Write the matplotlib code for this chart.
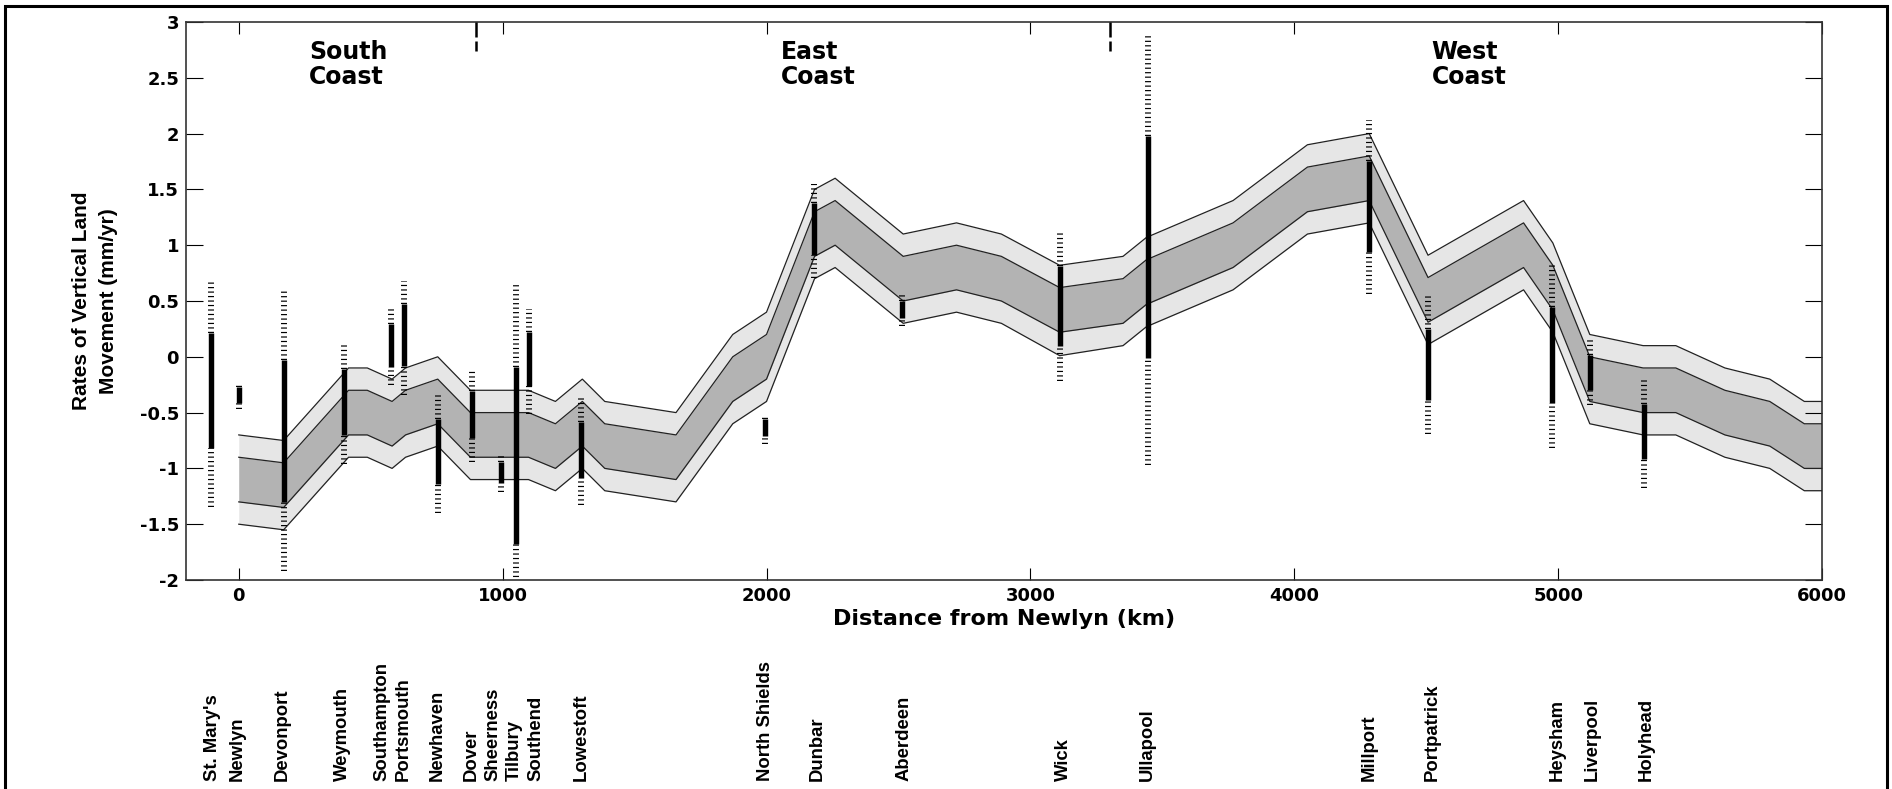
"""
Vertical land movement along the UK coast
tide gauge rates vs distance from Newlyn, with model band
"""

import matplotlib
matplotlib.use('Agg')
import matplotlib.pyplot as plt
import matplotlib.transforms as mtransforms
from matplotlib.patches import Rectangle
import numpy as np

# model band (km from Newlyn) - edges
band_km = [0, 170, 416, 487, 581, 632, 754, 878, 1098, 1200, 1302, 1387, 1657, 1872, 2000,
           2182, 2260, 2518, 2720, 2890, 3111, 3351, 3440, 3768, 4050, 4284, 4507, 4869,
           4980, 5120, 5322, 5446, 5632, 5802, 5933, 6000]
outer_hi = [-0.7, -0.75, -0.1, -0.1, -0.2, -0.1, 0.0, -0.3, -0.3, -0.4, -0.2, -0.4, -0.5, 0.2, 0.4,
            1.5, 1.6, 1.1, 1.2, 1.1, 0.82, 0.9, 1.07, 1.4, 1.9, 2.0, 0.91, 1.4,
            1.02, 0.2, 0.1, 0.1, -0.1, -0.2, -0.4, -0.4]
inner_hi = [-0.9, -0.95, -0.3, -0.3, -0.4, -0.3, -0.2, -0.5, -0.5, -0.6, -0.4, -0.6, -0.7, 0.0, 0.2,
            1.3, 1.4, 0.9, 1.0, 0.9, 0.62, 0.7, 0.87, 1.2, 1.7, 1.8, 0.71, 1.2,
            0.82, 0.0, -0.1, -0.1, -0.3, -0.4, -0.6, -0.6]
inner_lo = [-1.3, -1.35, -0.7, -0.7, -0.8, -0.7, -0.6, -0.9, -0.9, -1.0, -0.8, -1.0, -1.1, -0.4, -0.2,
            0.9, 1.0, 0.5, 0.6, 0.5, 0.22, 0.3, 0.47, 0.8, 1.3, 1.4, 0.31, 0.8,
            0.42, -0.4, -0.5, -0.5, -0.7, -0.8, -1.0, -1.0]
outer_lo = [-1.5, -1.55, -0.9, -0.9, -1.0, -0.9, -0.8, -1.1, -1.1, -1.2, -1.0, -1.2, -1.3, -0.6, -0.4,
            0.7, 0.8, 0.3, 0.4, 0.3, 0.01, 0.1, 0.27, 0.6, 1.1, 1.2, 0.11, 0.6,
            0.22, -0.6, -0.7, -0.7, -0.9, -1.0, -1.2, -1.2]

# tide gauge stations
stations = ["St. Mary's", 'Newlyn', 'Devonport', 'Weymouth', 'Southampton', 'Portsmouth',
            'Newhaven', 'Dover', 'Sheerness', 'Tilbury', 'Southend', 'Lowestoft',
            'North Shields', 'Dunbar', 'Aberdeen', 'Wick', 'Ullapool', 'Millport',
            'Portpatrick', 'Heysham', 'Liverpool', 'Holyhead']
station_km = [-107, 0, 170, 399, 577, 628, 754, 883, 993, 1051, 1098, 1297,
              1993, 2180, 2512, 3111, 3446, 4284, 4507, 4978, 5121, 5325]
solid_hi = [0.21, -0.27, -0.03, -0.11, 0.29, 0.47, -0.56, -0.31, -0.94, -0.09, 0.22, -0.58,
            -0.56, 1.38, 0.50, 0.81, 1.98, 1.75, 0.25, 0.45, 0.02, -0.42]
solid_lo = [-0.82, -0.41, -1.30, -0.70, -0.09, -0.08, -1.14, -0.73, -1.13, -1.68, -0.26, -1.09,
            -0.71, 0.91, 0.35, 0.10, -0.01, 0.94, -0.39, -0.41, -0.30, -0.92]
dash_hi = [0.68, -0.25, 0.59, 0.11, 0.45, 0.68, -0.33, -0.13, -0.89, 0.65, 0.43, -0.37,
           -0.52, 1.55, 0.55, 1.11, 2.90, 2.12, 0.55, 0.84, 0.16, -0.21]
dash_lo = [-1.35, -0.47, -1.92, -0.96, -0.25, -0.34, -1.40, -0.94, -1.21, -2.05, -0.51, -1.33,
           -0.78, 0.71, 0.28, -0.22, -0.97, 0.56, -0.69, -0.82, -0.43, -1.18]

regions = ['South\nCoast', 'East\nCoast', 'West\nCoast']
region_km = [267, 2053, 4521]
region_breaks_km = [900, 3300]

yticks = [-2, -1.5, -1, -0.5, 0, 0.5, 1, 1.5, 2, 2.5, 3]
ytick_labels = ['-2', '-1.5', '-1', '-0.5', '0', '0.5', '1', '1.5', '2', '2.5', '3']

# sideways shift of the crowded station names (km)
label_shift = [7, -5, -4, -6, -35, -4, -3, -3, -31, -7, 28, 0,
               5, 11, 8, 13, -2, 2, 17, 17, 7, 9]

W, H = 1892, 789
BOLD = dict(family=['DejaVu Sans'], fontweight='bold')
ARIAL = dict(family=['Liberation Sans', 'DejaVu Sans'], fontweight='bold')


def main():
    plt.rcParams['axes.unicode_minus'] = False
    fig = plt.figure(figsize=(W / 100, H / 100), dpi=100)
    ax = fig.add_axes([186 / W, 1 - 580 / H, 1636 / W, 558 / H])

    ax.fill_between(band_km, outer_lo, outer_hi, color='#e6e6e6', lw=0, zorder=1)
    ax.fill_between(band_km, inner_lo, inner_hi, color='#b3b3b3', lw=0, zorder=2)
    for edge in (outer_hi, inner_hi, inner_lo, outer_lo):
        ax.plot(band_km, edge, color='#222222', lw=0.9, zorder=3)

    # dotted outer range above and below the solid inner range
    dash_style = [(0, (0.2, 0.55))]
    ax.vlines(station_km, solid_hi, dash_hi, colors='k', lw=4.3,
              linestyles=dash_style, zorder=4)
    ax.vlines(station_km, dash_lo, solid_lo, colors='k', lw=4.3,
              linestyles=dash_style, zorder=4)
    ax.vlines(station_km, solid_lo, solid_hi, colors='k', lw=3.9, zorder=5)

    for xb in region_breaks_km:
        ax.plot([xb, xb], [3.0, 2.74], color='k', lw=1.8, ls=(0, (6, 1.6)),
                clip_on=False, zorder=6)

    for name, xr in zip(regions, region_km):
        ax.text(xr, 2.84, name, ha='left', va='top', fontsize=17,
                linespacing=1.05, **BOLD)

    ax.set_xlim(-200, 6000)
    ax.set_ylim(-2, 3)
    ax.set_xticks(range(0, 6001, 1000))
    ax.set_yticks(yticks)
    ax.set_yticklabels(ytick_labels)
    ax.tick_params(direction='in', top=True, right=True, colors='k', labelsize=13, pad=5)
    ax.tick_params(axis='x', length=8.5)
    ax.tick_params(axis='y', length=12)
    for lab in ax.get_xticklabels() + ax.get_yticklabels():
        lab.set_fontweight('bold')
        lab.set_family('DejaVu Sans')
    for sp in ax.spines.values():
        sp.set_color('#333333')
        sp.set_linewidth(1.2)

    fig.text(1004 / W, 1 - 619 / H, 'Distance from Newlyn (km)', ha='center',
             va='center', fontsize=16, **BOLD)
    fig.text(95 / W, 1 - 301 / H, 'Rates of Vertical Land\nMovement (mm/yr)',
             rotation=90, ha='center', va='center', multialignment='center',
             fontsize=15, linespacing=1.5, **ARIAL)

    trans = mtransforms.blended_transform_factory(ax.transData, fig.transFigure)
    for name, xs, dx in zip(stations, station_km, label_shift):
        ax.text(xs + dx, 1 - 781 / H, name, transform=trans, rotation=90,
                ha='center', va='bottom', fontsize=13.3, clip_on=False, **ARIAL)

    fig.patches.append(Rectangle((5 / W, -0.01), 1882 / W, 1 - 6 / H + 0.01,
                                 transform=fig.transFigure, fill=False,
                                 lw=2.2, ec='k'))

    fig.savefig('out.png', dpi=100)


if __name__ == '__main__':
    main()
